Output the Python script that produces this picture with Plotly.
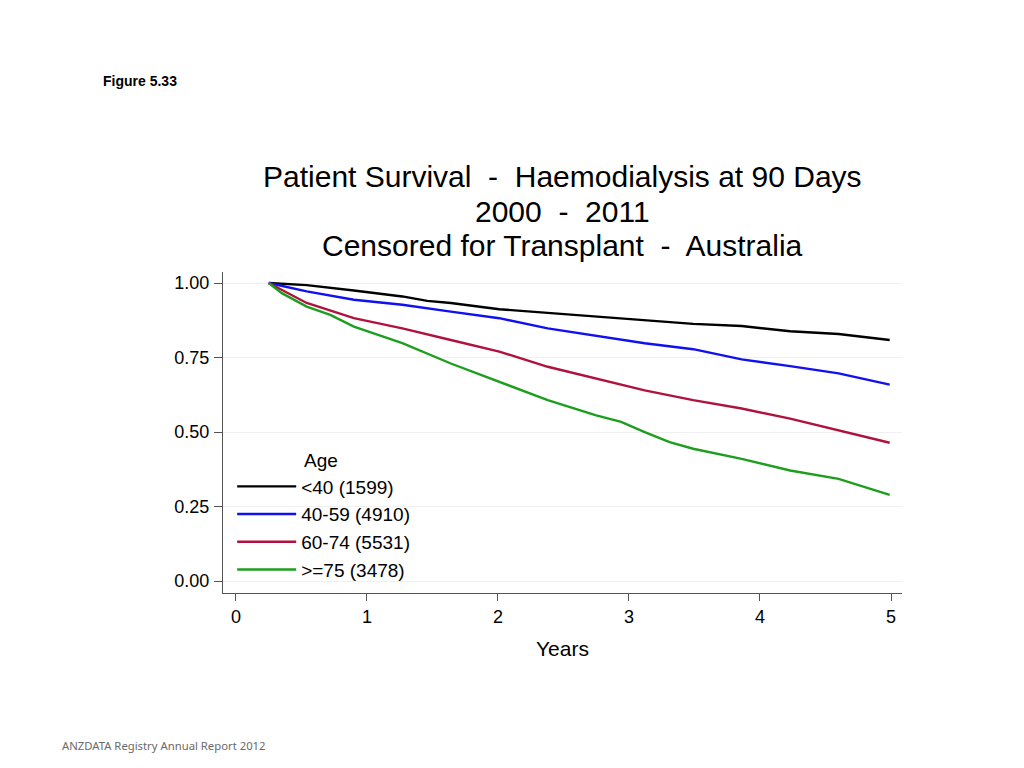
import plotly.graph_objects as go

# ---- data ----
series_names = ["<40 (1599)", "40-59 (4910)", "60-74 (5531)", ">=75 (3478)"]
series_colors = ["#000000", "#1010f0", "#b0123e", "#1e9e1e"]

x_lt40 = [0.25, 0.54, 0.90, 1.27, 1.46, 1.64, 2.01, 2.38, 2.75, 3.12, 3.49, 3.86, 4.23, 4.60, 4.99]
y_lt40 = [1.00, 0.993, 0.975, 0.955, 0.940, 0.933, 0.912, 0.900, 0.888, 0.876, 0.863, 0.856, 0.838, 0.829, 0.809]

x_40_59 = [0.25, 0.54, 0.90, 1.27, 1.64, 2.01, 2.38, 2.75, 3.12, 3.49, 3.86, 4.23, 4.60, 4.99]
y_40_59 = [1.00, 0.972, 0.944, 0.927, 0.904, 0.882, 0.848, 0.822, 0.798, 0.778, 0.744, 0.721, 0.697, 0.659]

x_60_74 = [0.25, 0.54, 0.90, 1.27, 1.64, 2.01, 2.38, 2.75, 3.12, 3.49, 3.86, 4.23, 4.60, 4.99]
y_60_74 = [1.00, 0.933, 0.882, 0.848, 0.809, 0.770, 0.719, 0.680, 0.640, 0.607, 0.579, 0.545, 0.506, 0.464]

x_ge75 = [0.25, 0.35, 0.54, 0.72, 0.90, 1.27, 1.64, 2.01, 2.38, 2.75, 2.94, 3.12, 3.31, 3.49, 3.86, 4.23, 4.60, 4.99]
y_ge75 = [1.00, 0.966, 0.921, 0.893, 0.854, 0.798, 0.730, 0.669, 0.607, 0.556, 0.534, 0.500, 0.466, 0.444, 0.410, 0.371, 0.343, 0.289]

x_ticks = [0, 1, 2, 3, 4, 5]
x_tick_labels = ["0", "1", "2", "3", "4", "5"]
y_ticks = [0, 0.25, 0.5, 0.75, 1.0]
y_tick_labels = ["0.00", "0.25", "0.50", "0.75", "1.00"]

title_lines = ["Patient Survival\u00a0 -\u00a0 Haemodialysis at 90 Days",
               "2000\u00a0 -\u00a0 2011",
               "Censored for Transplant\u00a0 -\u00a0 Australia"]

FONT = "Liberation Sans, Arial, sans-serif"

fig = go.Figure()
all_x = [x_lt40, x_40_59, x_60_74, x_ge75]
all_y = [y_lt40, y_40_59, y_60_74, y_ge75]
for i, (name, col, xs, ys) in enumerate(zip(series_names, series_colors, all_x, all_y)):
    fig.add_trace(go.Scatter(x=xs, y=ys, mode="lines", name=name,
                             line=dict(color=col, width=2.4)))

axis_col = "#555555"
fig.update_layout(
    width=1016, height=760,
    paper_bgcolor="white", plot_bgcolor="white",
    margin=dict(l=215, r=122, t=264, b=175),
    font=dict(family=FONT, color="#000000", size=17),
    showlegend=True,
    legend=dict(x=0.0135, y=0.391, xanchor="left", yanchor="top",
                bgcolor="rgba(0,0,0,0)", borderwidth=0,
                font=dict(family=FONT, size=19),
                itemwidth=59, traceorder="normal"),
    xaxis=dict(range=[-0.099, 5.084], tickvals=x_ticks, ticktext=x_tick_labels,
               showgrid=False, zeroline=False, showline=True, linecolor=axis_col,
               linewidth=1.3, ticks="outside", ticklen=7, tickcolor=axis_col,
               tickfont=dict(size=18),
               title=dict(text="Years", font=dict(size=21), standoff=15)),
    yaxis=dict(range=[-0.04, 1.037], tickvals=y_ticks, ticktext=y_tick_labels,
               showgrid=True, gridcolor="#f0f0f0", gridwidth=1, zeroline=False,
               showline=True, linecolor=axis_col, linewidth=1.3,
               ticks="outside", ticklen=8, tickcolor=axis_col,
               ticklabelstandoff=1, tickfont=dict(size=18)),
)

title_y = [1.299, 1.19, 1.081]
for txt, yy in zip(title_lines, title_y):
    fig.add_annotation(text=txt, xref="paper", yref="paper", x=0.5, y=yy,
                       xanchor="center", yanchor="middle", showarrow=False,
                       borderpad=0,
                       font=dict(family=FONT, size=30, color="#000000"))

fig.add_annotation(text="Age", xref="paper", yref="paper", x=0.116, y=0.414,
                   xanchor="left", yanchor="middle", showarrow=False,
                   font=dict(family=FONT, size=19))
fig.add_annotation(text="<b>Figure 5.33</b>", xref="paper", yref="paper",
                   x=-0.1797, y=1.595, xanchor="left", yanchor="middle",
                   showarrow=False, font=dict(family=FONT, size=14))
fig.add_annotation(text="ANZDATA Registry Annual Report 2012", xref="paper",
                   yref="paper", x=-0.2400, y=-0.4766, xanchor="left",
                   yanchor="middle", showarrow=False,
                   font=dict(family="Noto Sans, sans-serif", size=11.3, color="#6a6a6a"))

fig.write_html("out.html")
